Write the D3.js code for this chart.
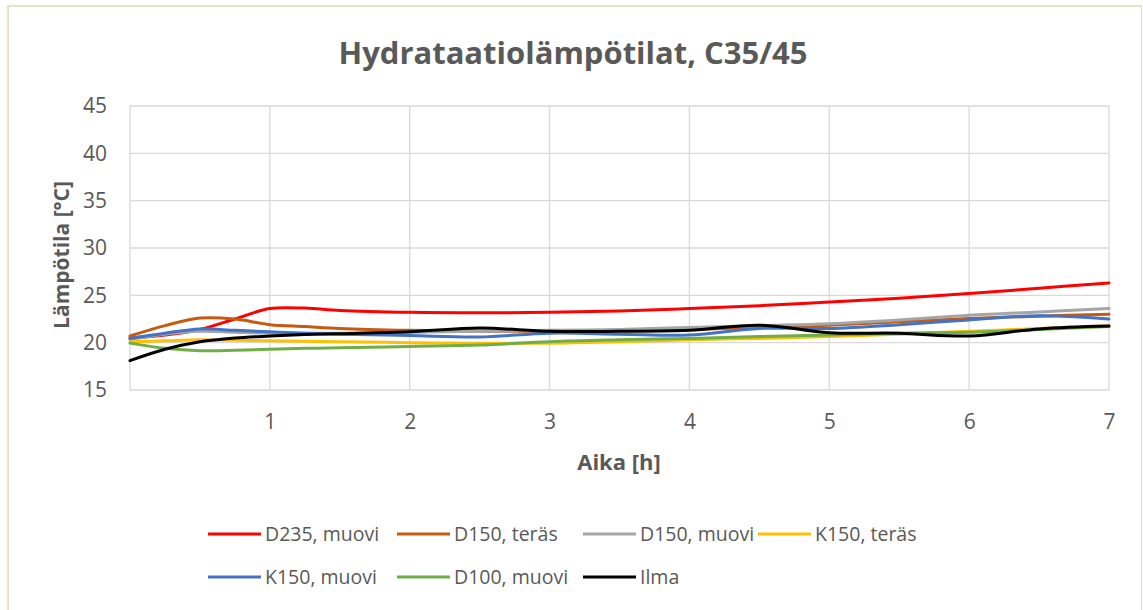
<!DOCTYPE html>
<html>
<head>
<meta charset="utf-8">
<script src="https://cdn.jsdelivr.net/npm/d3@7"></script>
<style>
  html, body { margin: 0; padding: 0; background: #fff; }
  svg { display: block; }
  text { font-family: "Open Sans", "Noto Sans", sans-serif; fill: #595959; }
</style>
</head>
<body>
<svg id="chart" width="1143" height="610"></svg>
<script>
// Measurement times (h)
const times = [0, 0.25, 0.5, 0.75, 1, 1.25, 1.5, 2, 2.5, 3, 3.5, 4, 4.5, 5, 5.5, 6, 6.5, 7];

// Temperatures (°C) per sensor
const d235Muovi = [20.5, 20.8, 21.4, 22.5, 23.6, 23.65, 23.4, 23.2, 23.15, 23.2, 23.35, 23.6, 23.9, 24.3, 24.7, 25.2, 25.75, 26.3];
const d150Teras = [20.7, 21.8, 22.6, 22.5, 21.9, 21.7, 21.5, 21.3, 21.2, 21.2, 21.3, 21.4, 21.6, 21.85, 22.2, 22.55, 22.8, 23.0];
const d150Muovi = [20.35, 20.9, 21.2, 21.1, 21.0, 21.0, 21.0, 21.1, 21.2, 21.3, 21.4, 21.6, 21.8, 22.0, 22.4, 22.9, 23.25, 23.6];
const k150Teras = [20.1, 20.2, 20.3, 20.25, 20.2, 20.15, 20.1, 20.0, 19.95, 19.95, 20.1, 20.3, 20.45, 20.65, 20.9, 21.2, 21.5, 21.8];
const k150Muovi = [20.45, 21.0, 21.45, 21.3, 21.15, 21.0, 20.9, 20.75, 20.6, 21.0, 20.9, 20.8, 21.5, 21.5, 21.9, 22.4, 22.85, 22.5];
const d100Muovi = [19.95, 19.4, 19.15, 19.2, 19.3, 19.4, 19.45, 19.6, 19.75, 20.1, 20.3, 20.45, 20.65, 20.8, 21.0, 21.1, 21.4, 21.7];
const ilma      = [18.1, 19.3, 20.1, 20.5, 20.7, 20.85, 20.95, 21.15, 21.55, 21.2, 21.2, 21.3, 21.85, 21.05, 21.0, 20.7, 21.45, 21.75];

const seriesNames  = ["D235, muovi", "D150, teräs", "D150, muovi", "K150, teräs", "K150, muovi", "D100, muovi", "Ilma"];
const seriesValues = [d235Muovi, d150Teras, d150Muovi, k150Teras, k150Muovi, d100Muovi, ilma];
const seriesColors = ["#ff0000", "#c55a11", "#a5a5a5", "#ffc000", "#4472c4", "#70ad47", "#000000"];

const xTicks = [1, 2, 3, 4, 5, 6, 7];
const yTicks = [15, 20, 25, 30, 35, 40, 45];

const titleText = "Hydrataatiolämpötilat, C35/45";
const xTitle = "Aika [h]";
const yTitle = "Lämpötila [°C]";

const svg = d3.select("#chart");
const plot = { left: 130, right: 1109, top: 106, bottom: 390 };

// chart frame
svg.append("rect").attr("x", 8.5).attr("y", 6.5).attr("width", 1133).attr("height", 620)
  .attr("fill", "#fff").attr("stroke", "#d9d9d9").attr("stroke-width", 1);
svg.append("line").attr("x1", 8).attr("x2", 1142).attr("y1", 5.5).attr("y2", 5.5)
  .attr("stroke", "#f3eaa6").attr("stroke-width", 1.5);
svg.append("line").attr("x1", 7.5).attr("x2", 7.5).attr("y1", 5).attr("y2", 610)
  .attr("stroke", "#f3eaa6").attr("stroke-width", 1.5);

const x = d3.scaleLinear().domain([0, 7]).range([plot.left, plot.right]);
const y = d3.scaleLinear().domain([15, 45]).range([plot.bottom, plot.top]);

// gridlines
const grid = svg.append("g").attr("stroke", "#d9d9d9").attr("stroke-width", 1.3);
grid.selectAll("line.h").data(yTicks).join("line")
  .attr("x1", plot.left).attr("x2", plot.right)
  .attr("y1", d => y(d)).attr("y2", d => y(d));
grid.selectAll("line.v").data([0].concat(xTicks)).join("line")
  .attr("y1", plot.top).attr("y2", plot.bottom)
  .attr("x1", d => x(d)).attr("x2", d => x(d));

// axes (labels only; lines come from the grid)
const xAxis = svg.append("g").attr("transform", `translate(0,${plot.bottom})`)
  .call(d3.axisBottom(x).tickValues(xTicks).tickSize(0).tickPadding(24).tickFormat(d3.format("d")));
const yAxis = svg.append("g").attr("transform", `translate(${plot.left},0)`)
  .call(d3.axisLeft(y).tickValues(yTicks).tickSize(0).tickPadding(23).tickFormat(d3.format("d")));
[xAxis, yAxis].forEach(a => {
  a.select(".domain").remove();
  a.selectAll("text").attr("font-size", 21).attr("fill", "#595959")
    .style("font-family", "'Open Sans', sans-serif");
});

// series lines
const line = d3.line()
  .x((d, i) => x(times[i]))
  .y(d => y(d))
  .curve(d3.curveCatmullRom.alpha(0.5));

svg.append("g").selectAll("path").data(seriesValues).join("path")
  .attr("d", d => line(d))
  .attr("fill", "none")
  .attr("stroke", (d, i) => seriesColors[i])
  .attr("stroke-width", 3)
  .attr("stroke-linejoin", "round")
  .attr("stroke-linecap", "round");

// titles
svg.append("text").attr("x", 573).attr("y", 64).attr("text-anchor", "middle")
  .attr("font-size", 31).attr("font-weight", 700).text(titleText);
svg.append("text").attr("x", 619).attr("y", 470).attr("text-anchor", "middle")
  .attr("font-size", 22).attr("font-weight", 700).text(xTitle);
svg.append("text").attr("transform", "translate(69,255) rotate(-90)").attr("text-anchor", "middle")
  .attr("font-size", 21).attr("font-weight", 700).text(yTitle);

// legend
const legendPos = [
  [208, 534], [397, 534], [583, 534], [758, 534],
  [208, 577], [397, 577], [583, 577]
];
const legend = svg.append("g").selectAll("g").data(seriesNames).join("g")
  .attr("transform", (d, i) => `translate(${legendPos[i][0]},${legendPos[i][1]})`);
legend.append("line").attr("x1", 0).attr("x2", 53).attr("y1", 0).attr("y2", 0)
  .attr("stroke", (d, i) => seriesColors[i]).attr("stroke-width", 3);
legend.append("text").attr("x", 57).attr("y", 0).attr("dy", "0.35em")
  .attr("font-size", 19.5).text(d => d);
</script>
</body>
</html>
